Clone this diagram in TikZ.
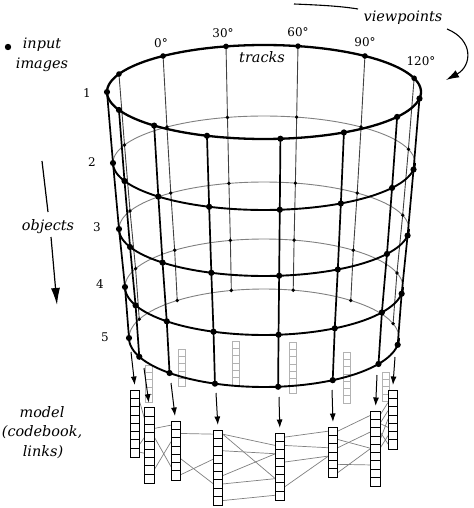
\documentclass[tikz,border=0pt]{standalone}
\usepackage{fontspec}
\setmainfont{DejaVu Serif}
\usetikzlibrary{arrows.meta}
\begin{document}
\begin{tikzpicture}[x=1bp,y=-1bp,
  backring/.style={draw=black!50, line width=0.9bp},
  frontring/.style={draw=black, line width=1.9bp},
  topring/.style={draw=black, line width=2.3bp},
  backtrack/.style={draw=black!75, line width=0.9bp},
  fronttrack/.style={draw=black, line width=1.7bp},
  lbl/.style={font=\fontsize{14.5}{17}\selectfont\itshape, inner sep=0},
  num/.style={font=\fontsize{12}{14}\selectfont, inner sep=0},
  stackbox/.style={draw=black, line width=0.9bp, fill=white, minimum width=8.3bp, inner sep=0, anchor=north west},
  gstack/.style={draw=black!30, line width=0.8bp, minimum width=7.3bp, inner sep=0, anchor=north west},
  link/.style={draw=black!50, line width=0.7bp},
  arr/.style={-{Latex[length=8.5bp,width=6bp]}, line width=1bp},
]
\useasboundingbox (0,0) rectangle (474,508);
\fill[white] (0,0) rectangle (474,508);

% ring / track points
\foreach \i/\cy/\rx/\ry in {1/92/157/47, 2/163/151/47, 3/229/145/47, 4/287/139/48, 5/338/135/49}{
  \foreach \k/\t in {1/17, 2/50, 3/77.5, 4/104, 5/130, 6/157.5, 7/180, 8/202.5, 9/225.6, 10/248.7, 11/276, 12/300.6, 13/328, 14/352}{
    \coordinate (p\i-\k) at ({264+\rx*cos(\t)},{\cy-\ry*sin(\t)});
  }
}

% back halves of rings 2-5
\foreach \cy/\rx/\ry in {163/151/47, 229/145/47, 287/139/48, 338/135/49}{
  \draw[backring] plot[domain=0:180, samples=70] ({264+\rx*cos(\x)},{\cy-\ry*sin(\x)});
}
% back tracks
\foreach \k in {1,...,6}{
  \draw[backtrack] (p1-\k) -- (p2-\k) -- (p3-\k) -- (p4-\k) -- (p5-\k);
  \foreach \i in {2,...,5}{ \fill (p\i-\k) circle[radius=1.9bp]; }
}

% gray codebooks of hidden tracks
\foreach \g/\gx/\gy/\gn in {1/145/365/5, 2/177.7/349/5, 3/232/341/6, 4/289/342/7, 5/343/352/7, 6/382/372/4}{
  \node[gstack, minimum height=\gn*7.3bp] (g\g) at (\gx,\gy) {};
  \pgfmathtruncatemacro{\gm}{\gn-1}
  \foreach \j in {1,...,\gm}{
    \draw[draw=black!30, line width=0.8bp] ([yshift={-\j*7.3bp}]g\g.north west) -- ([yshift={-\j*7.3bp}]g\g.north east);
  }
}

% front tracks
\foreach \k in {7,...,14}{
  \draw[fronttrack] (p1-\k) -- (p2-\k) -- (p3-\k) -- (p4-\k) -- (p5-\k);
}
% front halves of rings 2-5
\foreach \cy/\rx/\ry in {163/151/47, 229/145/47, 287/139/48, 338/135/49}{
  \draw[frontring] plot[domain=180:360, samples=70] ({264+\rx*cos(\x)},{\cy-\ry*sin(\x)});
}
% top ring
\draw[topring] plot[domain=0:360, samples=140] ({264+157*cos(\x)},{92-47*sin(\x)}) -- cycle;
% dots
\foreach \k in {7,...,14}{
  \foreach \i in {1,...,5}{ \fill (p\i-\k) circle[radius=3.1bp]; }
}
\foreach \k in {1,...,6}{ \fill (p1-\k) circle[radius=2.8bp]; }

% front codebooks
\foreach \s/\sx/\sy/\sn in {A/130.7/390/8, B/144.9/407.7/9, C/171/421/7, D/213.5/430/9, E/275.3/433/8, F/328.5/427/6, G/370.8/411/9, H/388/390/7}{
  \node[stackbox, minimum height=\sn*8.3bp] (s\s) at (\sx,\sy) {};
}
% links
\foreach \a/\i/\b/\j in {A/2/B/2, A/7/B/4, A/8/B/6,
  B/3/C/1, B/4/C/6, B/8/C/3,
  C/2/D/1, C/5/D/7, C/7/D/4,
  D/1/E/2, D/1/E/6, D/3/E/3, D/6/E/3, D/7/E/6, D/9/E/8,
  E/1/F/1, E/2/F/3, E/4/F/4, E/7/F/4,
  F/1/G/1, F/2/G/5, F/3/G/3, F/5/G/7, F/6/G/5,
  G/1/H/2, G/2/H/3, G/2/H/5, G/4/H/4, G/5/H/6, G/3/H/7}{
  \draw[link] ([yshift={-(\i-0.5)*8.3bp}]s\a.north east) -- ([yshift={-(\j-0.5)*8.3bp}]s\b.north west);
}
% redraw stacks over link ends
\foreach \s/\sn in {A/8, B/9, C/7, D/9, E/8, F/6, G/9, H/7}{
  \draw[line width=0.9bp, fill=white] (s\s.north west) rectangle (s\s.south east);
  \pgfmathtruncatemacro{\sm}{\sn-1}
  \foreach \j in {1,...,\sm}{
    \draw[line width=0.8bp] ([yshift={-\j*8.3bp}]s\s.north west) -- ([yshift={-\j*8.3bp}]s\s.north east);
  }
}

% arrows from tracks to codebooks
\foreach \s/\ax/\ay in {A/131/352, B/144/368, C/171/383, D/216/393, E/279/397, F/332/390, G/377/375, H/395/357}{
  \coordinate (a\s) at (\ax,\ay);
  \draw[arr, shorten >=5bp] (a\s) -- (s\s.north);
}

% labels
\node[num] (n1) at (87,93) {1};
\node[num] (n2) at (92,162) {2};
\node[num] (n3) at (97,227) {3};
\node[num] (n4) at (100,284) {4};
\node[num] (n5) at (105,337) {5};
\node[num] (d0) at (161,43) {0°};
\node[num] (d30) at (223,33) {30°};
\node[num] (d60) at (298,32) {60°};
\node[num] (d90) at (365,42) {90°};
\node[num] (d120) at (421,61) {120°};
\node[lbl] (tracks) at (262,57) {tracks};
\node[lbl] (view) at (403,18) {viewpoints};
\fill (8,47) circle[radius=3.2bp];
\node[lbl] (input) at (42,45) {input};
\node[lbl] (images) at (42,65) {images};
\node[lbl] (objects) at (48,227) {objects};
\node[lbl] (model) at (42,412) {model};
\node[lbl] (codebook) at (42,432) {(codebook,};
\node[lbl] (links) at (43,452) {links)};

% viewpoints arrow
\coordinate (v1) at (294,4);
\coordinate (v2) at (358,9);
\coordinate (v3) at (447,29);
\coordinate (v4) at (446,80);
\draw[line width=1.1bp] (v1) .. controls (318,5) and (340,6) .. (v2);
\draw[line width=1.1bp, -{Latex[length=13bp,width=8bp]}] (v3) .. controls (474,40) and (472,66) .. (v4);

% objects arrow
\coordinate (o1) at (42,161);
\coordinate (o2) at (48,212);
\coordinate (o3) at (51,237);
\coordinate (o4) at (57,305);
\draw[line width=1.2bp] (o1) -- (o2);
\draw[line width=1.2bp, -{Latex[length=17bp,width=9bp]}] (o3) -- (o4);
\end{tikzpicture}
\end{document}
